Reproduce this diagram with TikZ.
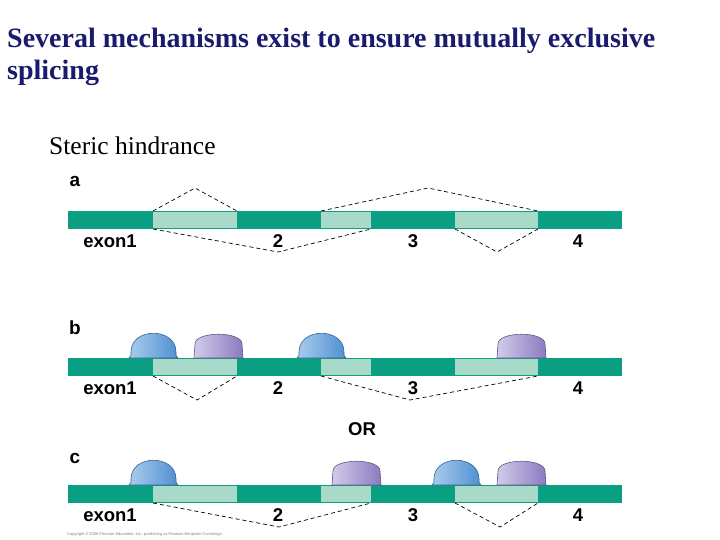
\documentclass[tikz,border=0pt]{standalone}
\usepackage{fontspec}
\setmainfont{Liberation Serif}
\newfontfamily\lab{Liberation Sans}
\definecolor{bar}{HTML}{0A9E82}
\definecolor{lite}{HTML}{A9D9C9}
\definecolor{blueA}{HTML}{A9CDEE}
\definecolor{blueB}{HTML}{4F8FD0}
\definecolor{purA}{HTML}{D2CCEA}
\definecolor{purB}{HTML}{8A7BC0}
\definecolor{ttl}{HTML}{1A1A6E}
\newcommand\bluebump[2]{\draw[draw=blueB!70!black,line width=0.6pt,left color=blueA,right color=blueB] (#1,#2) .. controls (#1+2,#2-2) .. (#1+2,#2-6) .. controls (#1+2,#2-31) and (#1+47,#2-31) .. (#1+47,#2-6) .. controls (#1+47,#2-2) .. (#1+49,#2) -- cycle;}
\newcommand\purbump[2]{\draw[draw=purB!70!black,line width=0.6pt,left color=purA,right color=purB] (#1,#2) -- (#1+1,#2-14) .. controls (#1+1,#2-27) and (#1+48,#2-27) .. (#1+48,#2-14) -- (#1+49,#2) -- cycle;}
\newcommand\strand[1]{%
 \fill[bar] (68,#1) rectangle (622,#1+18);
 \fill[lite] (153,#1+1) rectangle (237,#1+17);
 \fill[lite] (321,#1+1) rectangle (371,#1+17);
 \fill[lite] (455,#1+1) rectangle (538,#1+17);
 \node[lbl] at (110,#1+30) {exon1};
 \node[lbl] at (278,#1+30) {2};
 \node[lbl] at (413,#1+30) {3};
 \node[lbl] at (578,#1+30) {4};}
\begin{document}
\begin{tikzpicture}[x=1pt,y=-1pt,
 lbl/.style={font=\lab\bfseries\fontsize{18.5}{18}\selectfont,inner sep=0pt},
 letter/.style={font=\lab\bfseries\fontsize{19}{19}\selectfont,inner sep=0pt},
 dsh/.style={line width=0.7pt,dash pattern=on 4pt off 3pt}]
\useasboundingbox (0,0) rectangle (720,540);
\node[anchor=west,inner sep=0pt,text=ttl,font=\bfseries\fontsize{28}{28}\selectfont] (t1) at (7,41) {Several mechanisms exist to ensure mutually exclusive};
\node[anchor=west,inner sep=0pt,text=ttl,font=\bfseries\fontsize{28}{28}\selectfont] (t2) at (7,73) {splicing};
\node[anchor=west,inner sep=0pt,font=\fontsize{25.5}{25}\selectfont] (t3) at (49,146) {Steric hindrance};
% a
\node[letter] (la) at (75,181) {a};
\strand{211}
\draw[dsh] (153,211) -- (195,188) -- (237,211);
\draw[dsh] (321,211) -- (428,188) -- (538,211);
\draw[dsh] (153,229) -- (278,252) -- (371,229);
\draw[dsh] (455,229) -- (497,252) -- (538,229);
% b
\node[letter] (lb) at (75,328) {b};
\strand{358}
\bluebump{129}{358}\purbump{194}{358}\bluebump{297}{358}\purbump{497}{358}
\draw[dsh] (153,376) -- (197,400) -- (237,376);
\draw[dsh] (321,376) -- (410,400) -- (538,376);
\node[lbl] (or) at (362,429) {OR};
% c
\node[letter] (lc) at (75,458) {c};
\strand{485}
\bluebump{129}{485}\purbump{332}{485}\bluebump{432}{485}\purbump{497}{485}
\draw[dsh] (153,503) -- (279,527) -- (371,503);
\draw[dsh] (455,503) -- (500,527) -- (538,503);
\node[anchor=west,inner sep=0pt,font=\lab\fontsize{4}{4}\selectfont,text=gray] (cp) at (67,534) {Copyright \copyright\ 2006 Pearson Education, Inc., publishing as Pearson Benjamin Cummings.};
\end{tikzpicture}
\end{document}
